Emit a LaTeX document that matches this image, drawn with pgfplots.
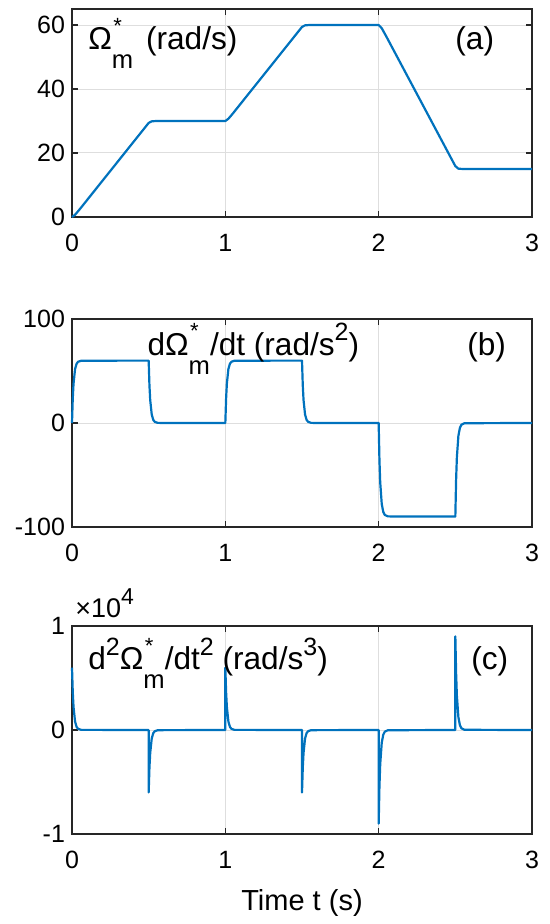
\documentclass[border=0pt]{standalone}
\usepackage{fontspec}
\setmainfont{Liberation Sans}
\usepackage{pgfplots}
\pgfplotsset{compat=1.18}

\definecolor{mblue}{rgb}{0,0.447,0.741}
\definecolor{mgrid}{gray}{0.87}
\definecolor{maxis}{gray}{0.15}

% Omega* with subscript m, MATLAB tex style
\newcommand{\Om}{Ω\rlap{\kern0.7pt\raisebox{8.4pt}{\fontsize{11}{13}\selectfont *}}\raisebox{-9.4pt}{\fontsize{12.8}{14}\selectfont m}}
\newcommand{\sups}[1]{\raisebox{7.4pt}{\fontsize{12.5}{14}\selectfont #1}}

\tikzset{lbl/.style={anchor=base west, inner sep=0pt, font=\fontsize{15.8}{18}\selectfont}}

\pgfplotsset{
  panel/.style={
    scale only axis, width=230pt, height=104pt,
    xmin=0, xmax=3, xtick={0,1,2,3},
    clip=false,
    grid=major, major grid style={mgrid, line width=0.5pt},
    axis line style={maxis, line width=0.6pt},
    tick style={maxis, line width=0.6pt}, major tick length=2.8pt,
    tick label style={font=\fontsize{12.5}{15}\selectfont, text=black},
    xticklabel style={yshift=-5pt},
    /pgf/number format/assume math mode=true,
    cycle list={{mblue, mark=none}},
    every axis plot post/.append style={line width=1.1pt, line join=round},
  },
}

\begin{document}
\begin{tikzpicture}
\path[use as bounding box] (-36pt,108.5pt) rectangle (239pt,-353.5pt);

% (a) speed reference
\begin{axis}[panel, at={(0pt,0pt)}, ymin=0, ymax=65, ytick={0,20,40,60}]
\addplot coordinates {
(0,0) (0.02,0.7) (0.05,2.4) (0.5,29.4) (0.52,29.9) (0.55,30)
(1,30) (1.02,30.7) (1.05,32.4) (1.5,59.4) (1.52,59.9) (1.55,60)
(2,60) (2.02,59.0) (2.05,56.4) (2.5,15.9) (2.52,15.1) (2.55,15) (3,15)
};
\node[lbl] at (axis cs:0.104,52.2) {\Om\kern2pt\ (rad/s)};
\node[lbl] at (axis cs:2.498,52.2) {(a)};
\end{axis}

% (b) first derivative
\begin{axis}[panel, at={(0pt,-155pt)}, ymin=-100, ymax=100, ytick={-100,0,100}]
\addplot coordinates {
(0,0) (0.005,23.6) (0.01,37.9) (0.02,51.9) (0.03,57.0) (0.04,58.9) (0.06,59.9) (0.5,60)
(0.505,36.4) (0.51,22.1) (0.52,8.1) (0.53,3.0) (0.54,1.1) (0.56,0.1) (1,0)
(1.005,23.6) (1.01,37.9) (1.02,51.9) (1.03,57.0) (1.04,58.9) (1.06,59.9) (1.5,60)
(1.505,36.4) (1.51,22.1) (1.52,8.1) (1.53,3.0) (1.54,1.1) (1.56,0.1) (2,0)
(2.005,-35.4) (2.01,-56.9) (2.02,-77.8) (2.03,-85.5) (2.04,-88.4) (2.06,-89.8) (2.5,-90)
(2.505,-54.6) (2.51,-33.1) (2.52,-12.2) (2.53,-4.5) (2.54,-1.6) (2.56,-0.2) (3,0)
};
\node[lbl] at (axis cs:0.49,65) {d\Om/dt (rad/s\sups{2})};
\node[lbl] at (axis cs:2.576,65) {(b)};
\end{axis}

% (c) second derivative, in units of 10^4
\begin{axis}[panel, at={(0pt,-308.5pt)}, ymin=-1, ymax=1, ytick={-1,0,1},
  xlabel={Time t (s)},
  xlabel style={font=\fontsize{14.5}{17}\selectfont, at={(axis description cs:0.5,0)}, anchor=base, yshift=-38pt}]
\addplot coordinates {
(0,0.6) (0.005,0.364) (0.01,0.221) (0.02,0.081) (0.03,0.030) (0.04,0.011) (0.06,0.0015) (0.4999,0)
(0.5,-0.6) (0.505,-0.364) (0.51,-0.221) (0.52,-0.081) (0.53,-0.030) (0.54,-0.011) (0.56,-0.0015) (0.9999,0)
(1,0.6) (1.005,0.364) (1.01,0.221) (1.02,0.081) (1.03,0.030) (1.04,0.011) (1.06,0.0015) (1.4999,0)
(1.5,-0.6) (1.505,-0.364) (1.51,-0.221) (1.52,-0.081) (1.53,-0.030) (1.54,-0.011) (1.56,-0.0015) (1.9999,0)
(2,-0.9) (2.005,-0.546) (2.01,-0.331) (2.02,-0.122) (2.03,-0.045) (2.04,-0.016) (2.06,-0.002) (2.4999,0)
(2.5,0.9) (2.505,0.546) (2.51,0.331) (2.52,0.122) (2.53,0.045) (2.54,0.016) (2.56,0.002) (3,0)
};
\node[lbl] at (axis cs:0.104,0.577) {d\sups{2}\Om/dt\sups{2} (rad/s\sups{3})};
\node[lbl] at (axis cs:2.602,0.577) {(c)};
\node[anchor=base west, inner sep=0pt, font=\fontsize{13.5}{16}\selectfont]
  at ([xshift=1.5pt,yshift=4.5pt]rel axis cs:0,1) {×10\raisebox{6.5pt}{\fontsize{11.5}{13}\selectfont 4}};
\end{axis}
\end{tikzpicture}
\end{document}
